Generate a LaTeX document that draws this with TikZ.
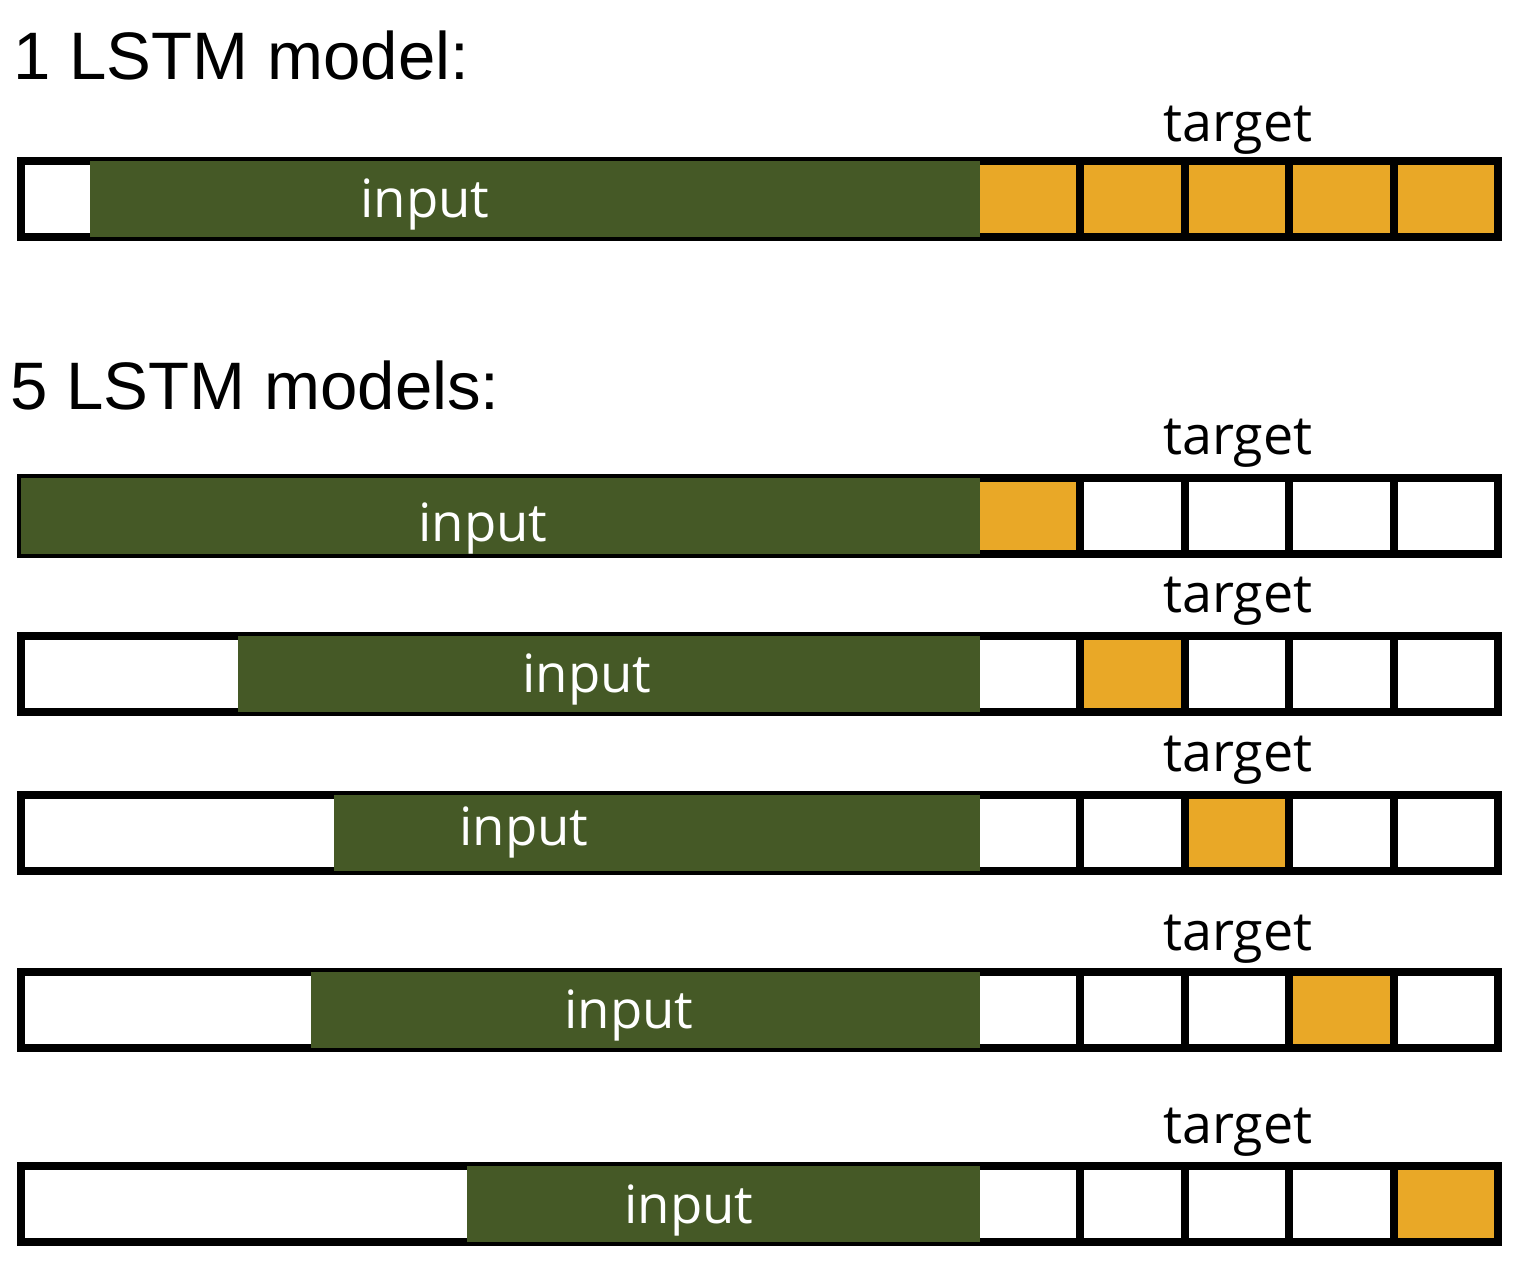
\documentclass[tikz,border=0pt]{standalone}
\usepackage{fontspec}
\setmainfont{Liberation Sans}
\newfontfamily\labelfont{Open Sans}
\usepackage{xcolor}
\usepackage{tikz}
\usetikzlibrary{positioning}

\definecolor{inputgreen}{RGB}{69,89,38}
\definecolor{targetorange}{RGB}{233,168,39}

\begin{document}
\begin{tikzpicture}[x=0.01cm, y=-0.01cm,
    barline/.style={line width=0.08cm, draw=black},
    inputfill/.style={fill=inputgreen},
    targetfill/.style={fill=targetorange},
    heading/.style={anchor=base west, inner sep=0pt, font=\fontsize{19.1pt}{23pt}\selectfont},
    inlabel/.style={anchor=base, inner sep=0pt, text=white, font=\labelfont\fontsize{15pt}{18pt}\selectfont},
    tglabel/.style={anchor=base, inner sep=0pt, font=\labelfont\fontsize{15.3pt}{18pt}\selectfont}]

\useasboundingbox (0,0) rectangle (1516,1277);

% ===========================
% TOP: one model
% ===========================
\node[heading] (head1) at (13,80) {1 LSTM model:};

\begin{scope}[shift={(0,157)}]
    % target cells
    \fill[targetfill] (976,4) rectangle (1498,80);
    % bar and cell borders
    \draw[barline] (21,4) rectangle (1498,80);
    \draw[barline] (1080,4) -- (1080,80) (1184.5,4) -- (1184.5,80)
        (1289,4) -- (1289,80) (1393.5,4) -- (1393.5,80);
    % input window
    \fill[inputfill] (90,4) rectangle (980,80);
    \node[inlabel] (in1) at (425,61) {input};
    \node[tglabel] (tg1) at (1238,-15) {target};
\end{scope}

% ===========================
% BOTTOM: five models
% ===========================
\node[heading] (head5) at (10,410) {5 LSTM models:};

% model 1
\begin{scope}[shift={(0,474)}]
    \fill[targetfill] (976,4) rectangle (1080,80);
    \draw[barline] (21,4) rectangle (1498,80);
    \draw[barline] (1080,4) -- (1080,80) (1184.5,4) -- (1184.5,80)
        (1289,4) -- (1289,80) (1393.5,4) -- (1393.5,80);
    \fill[inputfill] (21,4) rectangle (980,80);
    \node[inlabel] (in2) at (483,68) {input};
    \node[tglabel] (tg2) at (1238,-19) {target};
\end{scope}

% model 2
\begin{scope}[shift={(0,632)}]
    \fill[targetfill] (1080,4) rectangle (1184.5,80);
    \draw[barline] (21,4) rectangle (1498,80);
    \draw[barline] (1080,4) -- (1080,80) (1184.5,4) -- (1184.5,80)
        (1289,4) -- (1289,80) (1393.5,4) -- (1393.5,80);
    \fill[inputfill] (238,4) rectangle (980,80);
    \node[inlabel] (in3) at (587,61) {input};
    \node[tglabel] (tg3) at (1238,-19) {target};
\end{scope}

% model 3
\begin{scope}[shift={(0,791)}]
    \fill[targetfill] (1184.5,4) rectangle (1289,80);
    \draw[barline] (21,4) rectangle (1498,80);
    \draw[barline] (1080,4) -- (1080,80) (1184.5,4) -- (1184.5,80)
        (1289,4) -- (1289,80) (1393.5,4) -- (1393.5,80);
    \fill[inputfill] (334,4) rectangle (980,80);
    \node[inlabel] (in4) at (524,54) {input};
    \node[tglabel] (tg4) at (1238,-19) {target};
\end{scope}

% model 4
\begin{scope}[shift={(0,968)}]
    \fill[targetfill] (1289,4) rectangle (1393.5,80);
    \draw[barline] (21,4) rectangle (1498,80);
    \draw[barline] (1080,4) -- (1080,80) (1184.5,4) -- (1184.5,80)
        (1289,4) -- (1289,80) (1393.5,4) -- (1393.5,80);
    \fill[inputfill] (311,4) rectangle (980,80);
    \node[inlabel] (in5) at (629,60) {input};
    \node[tglabel] (tg5) at (1238,-18) {target};
\end{scope}

% model 5
\begin{scope}[shift={(0,1162)}]
    \fill[targetfill] (1393.5,4) rectangle (1498,80);
    \draw[barline] (21,4) rectangle (1498,80);
    \draw[barline] (1080,4) -- (1080,80) (1184.5,4) -- (1184.5,80)
        (1289,4) -- (1289,80) (1393.5,4) -- (1393.5,80);
    \fill[inputfill] (467,4) rectangle (980,80);
    \node[inlabel] (in6) at (689,61) {input};
    \node[tglabel] (tg6) at (1238,-19) {target};
\end{scope}

\end{tikzpicture}
\end{document}
